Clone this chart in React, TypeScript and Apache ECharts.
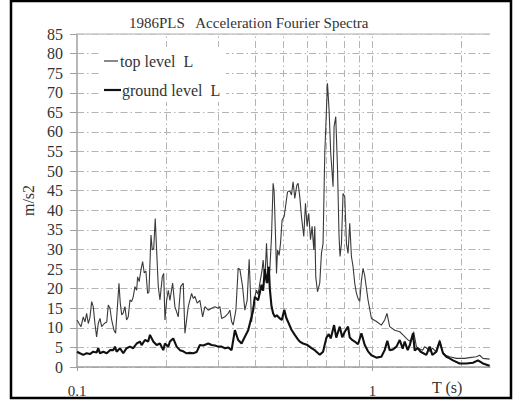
import React, { useEffect, useRef } from "react";
import * as echarts from "echarts";

const FONT = "Liberation Serif";

const titleText = "1986PLS   Acceleration Fourier Spectra";
const seriesNames = ["top level  L", "ground level  L"];
const xAxisTitle = "T (s)";
const yAxisTitle = "m/s2";

// period (s) and spectral amplitude (m/s2) of the top-level record
const topPeriod = [
  0.1, 0.1016, 0.1032, 0.105, 0.1064, 0.1078, 0.1092, 0.1106, 0.1121, 0.1135,
  0.115, 0.1165, 0.118, 0.1196, 0.1212, 0.1237, 0.1261, 0.1276, 0.1293, 0.131,
  0.1334, 0.1351, 0.1373, 0.1387, 0.1401, 0.1417, 0.1434, 0.1453, 0.1472, 0.1491,
  0.1511, 0.1531, 0.155, 0.1571, 0.1592, 0.1604, 0.1624, 0.1646, 0.1668, 0.1689,
  0.1711, 0.1734, 0.1752, 0.178, 0.1798, 0.1818, 0.184, 0.186, 0.1884, 0.1909,
  0.1944, 0.1965, 0.1985, 0.2011, 0.2037, 0.2063, 0.2107, 0.2145, 0.2201, 0.2243,
  0.2289, 0.2319, 0.238, 0.2443, 0.2474, 0.2507, 0.2552, 0.2606, 0.2662, 0.271,
  0.2781, 0.2855, 0.2929, 0.3006, 0.3046, 0.3087, 0.3167, 0.325, 0.3292, 0.3336,
  0.3378, 0.345, 0.3512, 0.3559, 0.3635, 0.37, 0.3767, 0.3826, 0.3898, 0.3947,
  0.3999, 0.4052, 0.4103, 0.4158, 0.4233, 0.4267, 0.4323, 0.438, 0.4436, 0.4494,
  0.4554, 0.4611, 0.4647, 0.4699, 0.4735, 0.4773, 0.4832, 0.4885, 0.4946, 0.5024,
  0.5079, 0.5159, 0.5251, 0.5321, 0.5388, 0.546, 0.5546, 0.5602, 0.5676, 0.5751,
  0.5856, 0.5934, 0.6009, 0.6089, 0.6171, 0.6248, 0.6332, 0.638, 0.643, 0.6516,
  0.6633, 0.6721, 0.6806, 0.6897, 0.7044, 0.7132, 0.7227, 0.7358, 0.7416, 0.7513,
  0.7614, 0.7709, 0.7769, 0.7854, 0.7953, 0.8059, 0.8166, 0.8269, 0.8379, 0.849,
  0.8598, 0.8711, 0.8827, 0.8938, 0.9057, 0.9177, 0.9293, 0.9417, 0.9663, 0.9922,
  1.032, 1.072, 1.1, 1.12, 1.144, 1.19, 1.237, 1.269, 1.303, 1.32,
  1.347, 1.379, 1.409, 1.445, 1.479, 1.502, 1.538, 1.562, 1.599, 1.637,
  1.689, 1.729, 1.77, 1.825, 1.923, 2.052, 2.133, 2.248, 2.306, 2.366, 2.493,
];
const topValue = [
  12.0, 11.1, 10.3, 12.8, 11.5, 13.7, 11.1, 12.6, 16.7, 15.4,
  11.1, 7.7, 11.1, 12.4, 10.3, 11.1, 11.5, 15.8, 15.0, 12.0,
  9.4, 8.6, 16.3, 21.4, 16.3, 13.3, 13.8, 15.4, 12.0, 12.8,
  17.1, 16.7, 17.9, 20.5, 19.6, 23.0, 21.8, 24.8, 26.9, 24.0,
  24.5, 18.8, 19.2, 33.7, 29.9, 30.2, 37.9, 29.9, 20.5, 17.1,
  23.0, 23.9, 12.0, 17.0, 19.6, 17.0, 21.4, 15.4, 12.8, 20.5,
  21.4, 8.6, 15.4, 18.8, 17.5, 18.0, 16.3, 17.0, 12.8, 15.4,
  14.5, 15.0, 15.4, 15.0, 15.4, 12.4, 12.8, 13.7, 14.5, 11.6,
  10.7, 14.5, 25.2, 24.9, 20.5, 14.5, 17.0, 27.5, 11.5, 15.0,
  17.9, 19.6, 18.5, 21.4, 24.8, 27.3, 22.0, 31.6, 21.4, 24.8,
  33.3, 46.9, 45.0, 33.3, 23.9, 29.9, 28.5, 31.6, 37.5, 38.4,
  40.9, 44.7, 45.0, 43.9, 47.3, 43.0, 46.4, 46.9, 43.5, 38.4,
  33.3, 41.8, 35.9, 39.2, 32.5, 35.9, 29.9, 35.9, 23.0, 19.2,
  21.4, 29.0, 31.5, 54.5, 72.4, 65.6, 54.5, 46.0, 61.3, 63.9,
  51.1, 33.3, 28.2, 31.5, 44.3, 43.5, 31.5, 29.0, 36.7, 28.2,
  25.6, 21.4, 18.8, 17.5, 16.7, 22.0, 25.2, 23.3, 17.1, 12.4,
  11.6, 10.7, 12.0, 13.7, 10.3, 9.4, 9.0, 8.2, 7.3, 6.9,
  6.5, 9.0, 5.2, 4.6, 4.3, 5.2, 4.6, 4.0, 4.8, 3.9,
  6.9, 3.8, 3.0, 2.6, 2.2, 2.2, 2.4, 2.6, 3.0, 2.2, 2.0,
];

// period (s) and spectral amplitude (m/s2) of the ground-level record
const groundPeriod = [
  0.1, 0.1023, 0.105, 0.1078, 0.1106, 0.1135, 0.1165, 0.118, 0.1196, 0.1227,
  0.1261, 0.1293, 0.1327, 0.1344, 0.1362, 0.1398, 0.1434, 0.1472, 0.1511, 0.155,
  0.1592, 0.1633, 0.1655, 0.1698, 0.1742, 0.1766, 0.1812, 0.186, 0.1909, 0.1959,
  0.1985, 0.2037, 0.2063, 0.2117, 0.2174, 0.2231, 0.2289, 0.235, 0.2411, 0.2474,
  0.254, 0.2606, 0.2674, 0.2781, 0.2855, 0.2929, 0.3006, 0.3087, 0.3167, 0.325,
  0.3336, 0.3423, 0.3512, 0.3606, 0.37, 0.3797, 0.3847, 0.3898, 0.3947, 0.3999,
  0.4103, 0.4213, 0.4267, 0.4323, 0.4391, 0.446, 0.4494, 0.4554, 0.4611, 0.4673,
  0.4746, 0.4858, 0.4934, 0.5031, 0.5111, 0.5183, 0.5321, 0.546, 0.5602, 0.5676,
  0.5824, 0.5995, 0.6219, 0.638, 0.6633, 0.6806, 0.6989, 0.7116, 0.7227, 0.7416,
  0.7543, 0.7751, 0.7904, 0.8059, 0.8269, 0.8379, 0.8511, 0.8711, 0.8938, 0.9177,
  0.9417, 0.9663, 0.9922, 1.032, 1.072, 1.1, 1.123, 1.144, 1.174, 1.206,
  1.237, 1.266, 1.286, 1.316, 1.337, 1.372, 1.39, 1.423, 1.456, 1.522,
  1.562, 1.595, 1.646, 1.689, 1.733, 1.779, 1.825, 1.873, 1.973, 2.079,
  2.189, 2.276, 2.366, 2.493,
];
const groundValue = [
  3.9, 3.5, 3.1, 3.5, 3.3, 3.9, 3.7, 4.8, 3.5, 3.9,
  3.5, 4.3, 4.3, 5.2, 3.9, 4.8, 3.5, 4.8, 5.2, 4.8,
  6.0, 6.5, 5.6, 6.9, 6.5, 8.2, 6.5, 5.6, 6.0, 4.3,
  6.0, 5.2, 6.5, 7.3, 5.2, 4.3, 4.0, 3.5, 3.6, 3.5,
  3.8, 5.6, 5.5, 6.0, 5.6, 5.5, 5.2, 5.2, 4.8, 5.0,
  4.3, 9.4, 6.9, 6.0, 7.7, 9.4, 11.1, 12.8, 14.5, 17.9,
  17.0, 21.0, 19.5, 25.0, 21.4, 25.6, 20.0, 15.5, 13.7, 12.8,
  13.2, 12.4, 12.0, 14.6, 12.5, 11.5, 9.5, 8.2, 7.0, 6.5,
  6.0, 5.7, 4.8, 4.3, 3.1, 3.9, 7.5, 8.4, 7.3, 10.7,
  7.5, 10.3, 7.6, 9.0, 10.3, 7.5, 7.0, 6.5, 5.8, 8.6,
  5.6, 4.0, 3.0, 2.4, 2.6, 4.3, 6.7, 4.3, 4.5, 5.2,
  6.9, 4.7, 6.5, 4.3, 5.5, 8.6, 4.2, 4.8, 3.9, 3.1,
  5.2, 3.1, 3.9, 6.5, 3.5, 2.6, 2.2, 1.7, 0.9, 0.9,
  1.1, 1.7, 0.9, 0.3,
];

// axis ranges and grid positions
const xMin = 0.1;
const xMax = 2.5;
const yMin = 0;
const yMax = 85;
const yStep = 5;
const periodGrid = [0.2, 0.3, 0.4, 0.5, 0.6, 0.7, 0.8, 0.9, 1, 2];

const zip = (a: number[], b: number[]) => a.map((v, i) => [v, b[i]]);

const GRID_COLOR = "#b4b4b4";
const DASH_DOT = [7, 3, 1.5, 3];
const TEXT_COLOR = "#333";

export default function App() {
  const ref = useRef<HTMLDivElement>(null);

  useEffect(() => {
    if (!ref.current) return;
    const chart = echarts.init(ref.current, null, { renderer: "svg" });
    chart.setOption({
      animation: false,
      backgroundColor: "#ffffff",
      textStyle: { fontFamily: FONT },
      title: {
        text: titleText,
        left: 124,
        top: 10,
        textStyle: {
          fontFamily: FONT,
          fontSize: 15,
          fontWeight: "normal",
          color: TEXT_COLOR,
        },
      },
      grid: { left: 77, top: 34, right: 25, bottom: 33, containLabel: false },
      xAxis: {
        type: "log",
        logBase: 10,
        min: xMin,
        max: xMax,
        axisLine: { show: true, lineStyle: { color: "#a0a0a0", width: 1.5 } },
        axisTick: { show: true, inside: false, length: 4, lineStyle: { color: "#a0a0a0" } },
        axisLabel: {
          fontFamily: FONT,
          fontSize: 15,
          color: TEXT_COLOR,
          margin: 16,
          showMaxLabel: false,
        },
        splitLine: { show: false },
      },
      yAxis: {
        type: "value",
        min: yMin,
        max: yMax,
        interval: yStep,
        name: yAxisTitle,
        nameLocation: "middle",
        nameRotate: 90,
        nameGap: 29,
        nameTextStyle: { fontFamily: FONT, fontSize: 16, color: TEXT_COLOR },
        axisLine: { show: true, lineStyle: { color: "#a0a0a0", width: 1.5 } },
        axisTick: { show: true, length: 7, lineStyle: { color: "#a0a0a0" } },
        axisLabel: { fontFamily: FONT, fontSize: 16, color: TEXT_COLOR, margin: 14 },
        splitLine: { show: true, lineStyle: { color: GRID_COLOR, type: DASH_DOT, width: 1 } },
      },
      series: [
        {
          name: seriesNames[0],
          type: "line",
          showSymbol: false,
          data: zip(topPeriod, topValue),
          lineStyle: { color: "#3a3a3a", width: 1.1 },
          z: 3,
          markLine: {
            silent: true,
            symbol: "none",
            label: { show: false },
            z: 1,
            lineStyle: { color: GRID_COLOR, type: DASH_DOT, width: 1 },
            data: periodGrid.map((p) => ({ xAxis: p })),
          },
        },
        {
          name: seriesNames[1],
          type: "line",
          showSymbol: false,
          data: zip(groundPeriod, groundValue),
          lineStyle: { color: "#111", width: 2.1 },
          z: 4,
          markLine: {
            silent: true,
            symbol: "none",
            label: { show: false },
            z: 1,
            lineStyle: { color: "#c8c8c8", type: "solid", width: 1.5 },
            data: [{ yAxis: yMax }],
          },
        },
      ],
      graphic: [
        {
          type: "rect",
          shape: { x: 11, y: 1, width: 500, height: 397 },
          style: { fill: "none", stroke: "#000", lineWidth: 2.5 },
          silent: true,
        },
        {
          type: "rect",
          shape: { x: 99, y: 47, width: 127, height: 55 },
          style: { fill: "#fff", stroke: "none" },
          silent: true,
          z: 10,
        },
        {
          type: "line",
          shape: { x1: 104, y1: 61, x2: 118, y2: 61 },
          style: { stroke: "#3a3a3a", lineWidth: 1.2 },
          z: 11,
        },
        {
          type: "text",
          x: 120,
          y: 61,
          z: 11,
          style: {
            text: seriesNames[0],
            fontFamily: FONT,
            fontSize: 16,
            fill: TEXT_COLOR,
            verticalAlign: "middle",
          },
        },
        {
          type: "line",
          shape: { x1: 104, y1: 90, x2: 121, y2: 90 },
          style: { stroke: "#111", lineWidth: 2.2 },
          z: 11,
        },
        {
          type: "text",
          x: 122,
          y: 90,
          z: 11,
          style: {
            text: seriesNames[1],
            fontFamily: FONT,
            fontSize: 16,
            fill: TEXT_COLOR,
            verticalAlign: "middle",
          },
        },
        {
          type: "text",
          x: 432,
          y: 387,
          style: {
            text: xAxisTitle,
            fontFamily: FONT,
            fontSize: 16,
            fill: TEXT_COLOR,
            verticalAlign: "middle",
          },
        },
      ],
    });
    return () => chart.dispose();
  }, []);

  return (
    <div
      ref={ref}
      style={{ position: "absolute", left: 0, top: 0, width: 515, height: 400, background: "#fff" }}
    />
  );
}
